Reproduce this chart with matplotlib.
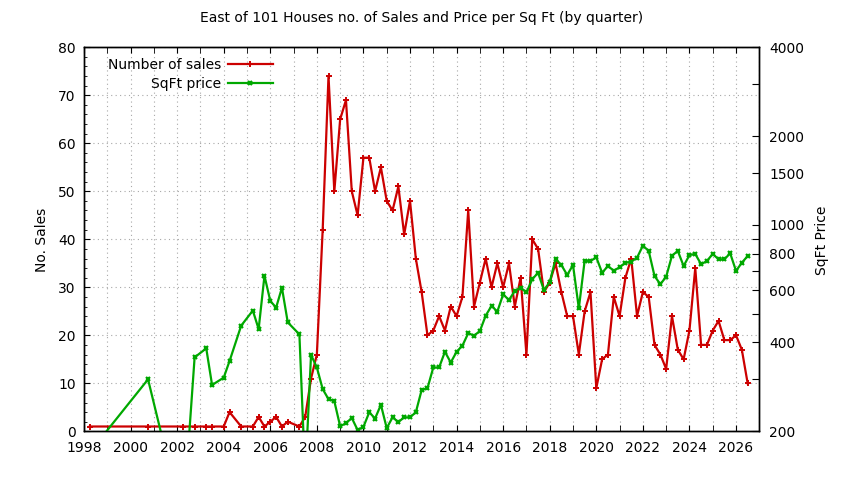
import matplotlib
matplotlib.use("Agg")
import matplotlib.pyplot as plt
from matplotlib.ticker import FixedLocator, FixedFormatter, MultipleLocator, NullLocator

plt.rcParams['font.family'] = ['DejaVu Sans']

# quarters that have sales (gnuplot plots a quarter at year + (q-1)/4)
quarters = [
    "1998Q2", "2000Q4", "2002Q2", "2002Q4", "2003Q2", "2003Q3",
    "2004Q1", "2004Q2", "2004Q4", "2005Q2", "2005Q3", "2005Q4",
    "2006Q1", "2006Q2", "2006Q3", "2006Q4", "2007Q2", "2007Q3", "2007Q4",
    "2008Q1", "2008Q2", "2008Q3", "2008Q4",
    "2009Q1", "2009Q2", "2009Q3", "2009Q4",
    "2010Q1", "2010Q2", "2010Q3", "2010Q4",
    "2011Q1", "2011Q2", "2011Q3", "2011Q4",
    "2012Q1", "2012Q2", "2012Q3", "2012Q4",
    "2013Q1", "2013Q2", "2013Q3", "2013Q4",
    "2014Q1", "2014Q2", "2014Q3", "2014Q4",
    "2015Q1", "2015Q2", "2015Q3", "2015Q4",
    "2016Q1", "2016Q2", "2016Q3", "2016Q4",
    "2017Q1", "2017Q2", "2017Q3", "2017Q4",
    "2018Q1", "2018Q2", "2018Q3", "2018Q4",
    "2019Q1", "2019Q2", "2019Q3", "2019Q4",
    "2020Q1", "2020Q2", "2020Q3", "2020Q4",
    "2021Q1", "2021Q2", "2021Q3", "2021Q4",
    "2022Q1", "2022Q2", "2022Q3", "2022Q4",
    "2023Q1", "2023Q2", "2023Q3", "2023Q4",
    "2024Q1", "2024Q2", "2024Q3", "2024Q4",
    "2025Q1", "2025Q2", "2025Q3", "2025Q4",
    "2026Q1", "2026Q2", "2026Q3",
]

num_sales = [
    1, 1, 1, 1, 1, 1,
    1, 4, 1, 1, 3, 1,
    2, 3, 1, 2, 1, 3, 11,
    16, 42, 74, 50,
    65, 69, 50, 45,
    57, 57, 50, 55,
    48, 46, 51, 41,
    48, 36, 29, 20,
    21, 24, 21, 26,
    24, 28, 46, 26,
    31, 36, 30, 35,
    30, 35, 26, 32,
    16, 40, 38, 29,
    31, 35, 29, 24,
    24, 16, 25, 29,
    9, 15, 16, 28,
    24, 32, 36, 24,
    29, 28, 18, 16,
    13, 24, 17, 15,
    21, 34, 18, 18,
    21, 23, 19, 19,
    20, 17, 10,
]

sqft_price = [
    170, 300, 98, 356, 382, 287,
    304, 346, 456, 513, 444, 673,
    553, 525, 613, 468, 426, 140, 363,
    329, 278, 257, 253,
    208, 213, 222, 202,
    207, 232, 221, 246,
    205, 223, 215, 223,
    223, 232, 276, 280,
    329, 329, 372, 342,
    372, 390, 430, 422,
    437, 493, 532, 509,
    582, 557, 598, 613,
    591, 655, 689, 602,
    640, 767, 732, 677,
    732, 522, 757, 755,
    777, 689, 726, 700,
    719, 745, 751, 775,
    851, 817, 672, 630,
    668, 787, 817, 726,
    791, 798, 736, 755,
    798, 765, 765, 802,
    699, 745, 785,
]

price_ticks = [200, 300, 400, 500, 600, 700, 800, 900, 1000, 1500, 2000, 3000, 4000]
price_labels = ["200", "", "400", "", "600", "", "800", "", "1000", "1500", "2000", "", "4000"]


def quarter_to_year(q):
    year, qn = q.split("Q")
    return int(year) + (int(qn) - 1) / 4.0


x = [quarter_to_year(q) for q in quarters]

RED = "#cc0000"
GREEN = "#00a800"
FS = 10

fig = plt.figure(figsize=(8.44, 4.8), dpi=100)
ax = fig.add_axes([84 / 844, 1 - 431.3 / 480, (759.3 - 84) / 844, 384 / 480])
ax2 = ax.twinx()

l1, = ax.plot(x, num_sales, color=RED, lw=1.6, marker="+", ms=4, mew=1.4, label="Number of sales")
l2, = ax2.plot(x, sqft_price, color=GREEN, lw=1.6, marker="x", ms=3.5, mew=1.6, label="SqFt price")

ax.set_xlim(1998, 2027)
ax.set_ylim(0, 80)
ax2.set_yscale("log")
ax2.set_ylim(200, 4000)

ax.xaxis.set_major_locator(MultipleLocator(2))
ax.xaxis.set_minor_locator(MultipleLocator(1))
ax.yaxis.set_major_locator(MultipleLocator(10))
ax.yaxis.set_minor_locator(MultipleLocator(2))
ax.tick_params(axis="x", which="both", direction="in", top=True, length=4.5, labelsize=FS, pad=7)
ax.tick_params(axis="y", which="major", direction="in", right=False, length=4.5, labelsize=FS, pad=6)
ax.tick_params(axis="y", which="minor", direction="in", right=False, length=2.5)

ax2.yaxis.set_major_locator(FixedLocator(price_ticks))
ax2.yaxis.set_major_formatter(FixedFormatter(price_labels))
ax2.yaxis.set_minor_locator(NullLocator())
ax2.tick_params(axis="y", which="major", direction="in", length=5, labelsize=FS, pad=7)

ax.grid(True, which="both", axis="x", color="#a8a8a8", lw=0.8, ls=(0, (1, 3)))
ax.grid(True, which="major", axis="y", color="#a8a8a8", lw=0.8, ls=(0, (1, 3)))
for a in (ax, ax2):
    for s in a.spines.values():
        s.set_linewidth(1.0)

fig.text(422 / 844, 1 - 18 / 480, "East of 101 Houses no. of Sales and Price per Sq Ft (by quarter)",
         ha="center", va="center", fontsize=FS)
fig.text(42 / 844, 1 - 240 / 480, "No. Sales", rotation=90, ha="center", va="center", fontsize=FS)
fig.text(822 / 844, 1 - 240 / 480, "SqFt Price", rotation=90, ha="center", va="center", fontsize=FS)

ax2.legend([l1, l2], ["Number of sales", "SqFt price"], loc="upper left",
           bbox_to_anchor=(108 / 844, 1 - 58 / 480), bbox_transform=fig.transFigure,
           frameon=False, markerfirst=False, handlelength=3.2, handletextpad=0.5,
           labelspacing=0.35, borderpad=0, borderaxespad=0, fontsize=FS)

fig.savefig("out.png", dpi=100)
